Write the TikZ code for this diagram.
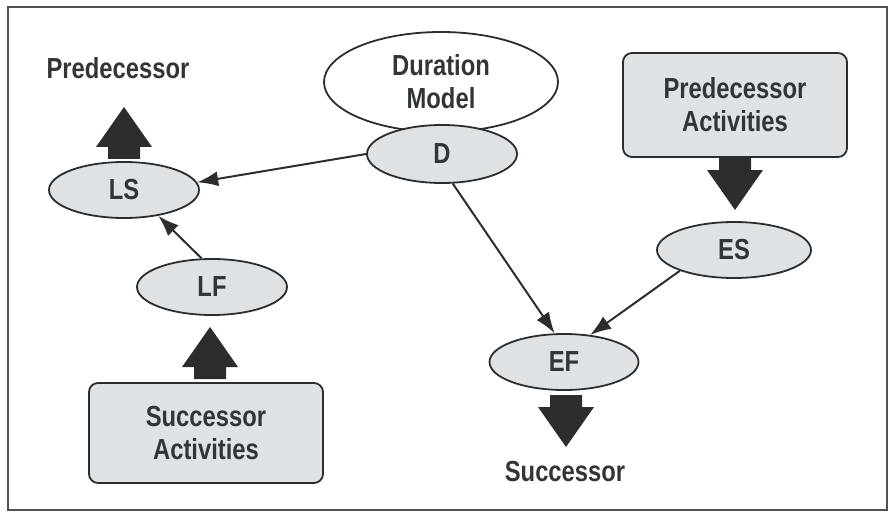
\documentclass[tikz,border=0pt]{standalone}
\usepackage{fontspec}
\setmainfont{Liberation Sans}[FakeStretch=0.82]
\usetikzlibrary{shapes.geometric,arrows.meta}
\definecolor{nodefill}{RGB}{222,226,228}
\definecolor{ink}{RGB}{45,45,45}
\definecolor{textgray}{RGB}{50,53,55}
\definecolor{framegray}{RGB}{80,83,85}

\begin{document}
\begin{tikzpicture}[x=1pt,y=-1pt,
  lbl/.style={font=\fontsize{29}{33}\selectfont\bfseries, text=textgray, align=center},
  oval/.style={ellipse, draw=ink, line width=1.8pt, fill=nodefill,
    minimum width=150pt, minimum height=56pt, inner sep=0pt, lbl},
  actbox/.style={rectangle, rounded corners=9pt, draw=ink, line width=1.8pt,
    fill=nodefill, inner sep=0pt, lbl},
  link/.style={draw=ink, line width=2pt, -{Latex[length=21pt,width=15pt]}},
  blockup/.pic={\fill[ink] (0,0) -- (28,40) -- (16,40) -- (16,52) -- (-16,52)
    -- (-16,40) -- (-28,40) -- cycle;}
]
\useasboundingbox (0,0) rectangle (890,513);
\draw[framegray, line width=2.5pt] (8,7) rectangle (887,510);

% duration model with its D node on top
\node[oval, fill=white, minimum width=234pt, minimum height=100pt] (dm) at (441,82) {Duration\\Model};
\node[oval, minimum height=58pt] (D) at (442,154) {D};

% late dates (left)
\node[lbl] (predlbl) at (118,68) {Predecessor};
\node[oval] (LS) at (124,190) {LS};
\node[oval] (LF) at (212,287) {LF};
\node[actbox, minimum width=234pt, minimum height=100pt] (succ) at (206,433) {Successor\\Activities};

% early dates (right)
\node[actbox, minimum width=224pt, minimum height=104pt] (pred) at (735,105) {Predecessor\\Activities};
\node[oval, minimum width=154pt] (ES) at (734,250) {ES};
\node[oval, minimum width=149pt] (EF) at (564,362) {EF};
\node[lbl] (succlbl) at (565,472) {Successor};

% block arrows
\pic at (124,107) {blockup};
\pic at (210,327) {blockup};
\pic[rotate=180] at (735,210) {blockup};
\pic[rotate=180] at (566,447) {blockup};

% connectors
\draw[link] (D.180) -- (LS.6);
\draw[link] (LF.110) -- (LS.-37);
\draw[link] (D.-70) -- (EF.108);
\draw[link] (ES.201) -- (EF.46);
\end{tikzpicture}
\end{document}
